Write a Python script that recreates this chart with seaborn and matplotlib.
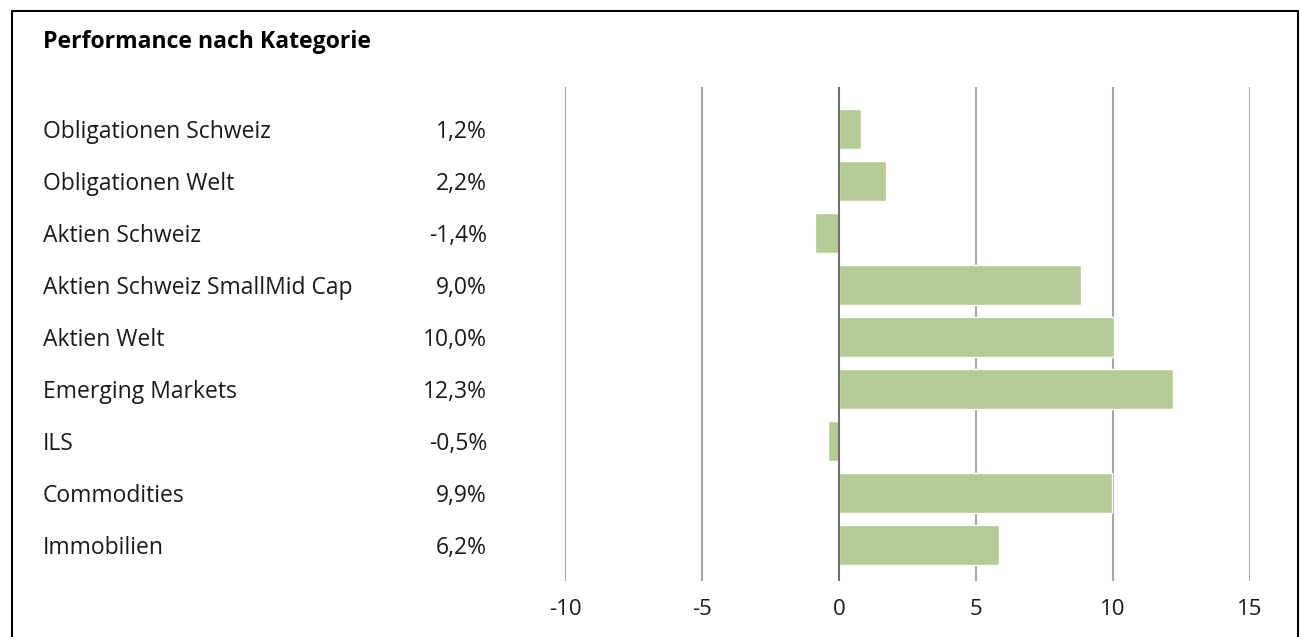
import numpy as np
import pandas as pd
import matplotlib
matplotlib.use("Agg")
import matplotlib.pyplot as plt
import matplotlib.transforms as mtransforms
from matplotlib.patches import Rectangle
import seaborn as sns

categories = ["Obligationen Schweiz", "Obligationen Welt", "Aktien Schweiz",
              "Aktien Schweiz SmallMid Cap", "Aktien Welt", "Emerging Markets",
              "ILS", "Commodities", "Immobilien"]
value_labels = ["1,2%", "2,2%", "-1,4%", "9,0%", "10,0%", "12,3%", "-0,5%", "9,9%", "6,2%"]
bar_values = [0.8, 1.7, -0.87, 8.85, 10.05, 12.2, -0.4, 9.95, 5.85]
x_ticks = [-10, -5, 0, 5, 10, 15]

df = pd.DataFrame({"cat": categories, "val": bar_values})

sns.set_style("white")
plt.rcParams["font.family"] = ["Open Sans", "DejaVu Sans"]

fig = plt.figure(figsize=(13.01, 6.37), dpi=100)
ax = fig.add_axes([565/1301, 1-581/637, (1250-565)/1301, (581-87)/637])

sns.barplot(data=df, y="cat", x="val", orient="h", color="#b5cb95",
            width=0.77, saturation=1, ax=ax, zorder=3)

ax.set_xlim(-10, 15)
ax.set_ylim(8.7, -0.8)
ax.set_xticks(x_ticks)
ax.set_xticklabels([str(t) for t in x_ticks], fontsize=16, color="#1a1a1a")
ax.tick_params(axis="x", length=0, pad=13)
ax.set_yticks([])
ax.set_xlabel("")
ax.set_ylabel("")
for s in ax.spines.values():
    s.set_visible(False)
for t in x_ticks:
    ax.axvline(t, color="#707070" if t == 0 else "#a6a6a6", lw=1.5, zorder=1 if t != 0 else 4)

# labels left of the plot area, one row per category
trans = mtransforms.blended_transform_factory(fig.transFigure, ax.transData)
for i, (c, v) in enumerate(zip(categories, value_labels)):
    fig.text(43/1301, i + 0.06, c, transform=trans, ha="left", va="center",
             fontsize=16.5, color="#1a1a1a")
    fig.text(487/1301, i + 0.06, v, transform=trans, ha="right", va="center",
             fontsize=16.5, color="#1a1a1a")

fig.text(43/1301, 1-42/637, "Performance nach Kategorie", ha="left", va="center",
         fontsize=16.6, fontweight="bold", color="#000000")

fig.patches.append(Rectangle((12/1301, -0.05), (1298-12)/1301, 1.05-11/637,
                             transform=fig.transFigure, fill=False,
                             edgecolor="#000000", lw=1.5))

fig.savefig("out.png", dpi=100)
